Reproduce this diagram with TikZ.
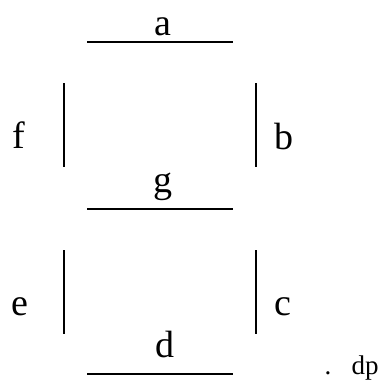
\documentclass[tikz,border=0pt]{standalone}
\usepackage{fontspec}
\setmainfont{Liberation Serif}
\begin{document}
\begin{tikzpicture}[x=1pt,y=-1pt,
  seg/.style={line width=2pt,line cap=butt},
  lbl/.style={anchor=base,inner sep=0pt,font=\fontsize{38}{40}\selectfont},
  small/.style={anchor=base,inner sep=0pt,font=\fontsize{27}{29}\selectfont}]
\useasboundingbox (0,0) rectangle (383,380);
% segments
\draw[seg] (87,42) -- (233,42);
\draw[seg] (64,83) -- (64,167);
\draw[seg] (256,83) -- (256,167);
\draw[seg] (87,209) -- (233,209);
\draw[seg] (64,250) -- (64,334);
\draw[seg] (256,250) -- (256,334);
\draw[seg] (87,374) -- (233,374);
% labels
\node[lbl] (la) at (163,35) {a};
\node[lbl] (lf) at (19,148) {f};
\node[lbl] (lb) at (284,149) {b};
\node[lbl] (lg) at (163,192) {g};
\node[lbl] (le) at (20,315) {e};
\node[lbl] (lc) at (283,315) {c};
\node[lbl] (ld) at (165,357) {d};
\node[small] (ldot) at (328,374) {.};
\node[small] (ldp) at (365,374) {dp};
\end{tikzpicture}
\end{document}
